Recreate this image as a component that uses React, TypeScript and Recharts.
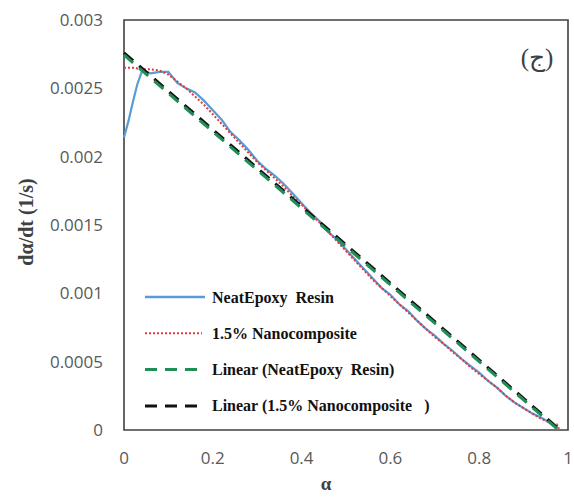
import React from 'react';
import { LineChart, Line, XAxis, YAxis, ReferenceArea } from 'recharts';

// conversion (alpha) vs. rate (1/s)
const neatAlpha = [0, 0.01, 0.02, 0.03, 0.04, 0.05, 0.06, 0.08, 0.1, 0.11, 0.12, 0.14, 0.16, 0.18, 0.2, 0.22, 0.24, 0.26, 0.28, 0.3, 0.32, 0.34, 0.36, 0.38, 0.4, 0.42, 0.44, 0.46, 0.48, 0.5, 0.52, 0.54, 0.56, 0.58, 0.6, 0.62, 0.64, 0.66, 0.68, 0.7, 0.72, 0.74, 0.76, 0.78, 0.8, 0.82, 0.84, 0.86, 0.88, 0.9, 0.92, 0.94, 0.96, 0.98];
const neatRate = [0.00214, 0.00226, 0.0024, 0.00253, 0.00262, 0.00262, 0.00261, 0.00262, 0.00262, 0.00258, 0.00254, 0.0025, 0.00247, 0.00241, 0.00234, 0.00227, 0.00218, 0.00212, 0.00205, 0.00197, 0.00191, 0.00186, 0.0018, 0.00173, 0.00166, 0.00159, 0.00153, 0.00145, 0.00139, 0.00132, 0.00125, 0.00118, 0.00111, 0.00104, 0.00099, 0.00092, 0.00087, 0.0008, 0.00074, 0.00069, 0.00063, 0.00058, 0.00052, 0.00047, 0.00042, 0.00036, 0.00031, 0.00025, 0.0002, 0.00016, 0.00012, 0.00009, 0.00005, 0.00001];

const nanoAlpha = [0, 0.02, 0.04, 0.06, 0.08, 0.1, 0.12, 0.14, 0.16, 0.18, 0.2, 0.22, 0.24, 0.26, 0.28, 0.3, 0.32, 0.34, 0.36, 0.38, 0.4, 0.42, 0.44, 0.46, 0.48, 0.5, 0.52, 0.54, 0.56, 0.58, 0.6, 0.62, 0.64, 0.66, 0.68, 0.7, 0.72, 0.74, 0.76, 0.78, 0.8, 0.82, 0.84, 0.86, 0.88, 0.9, 0.92, 0.94, 0.95, 0.96, 0.97, 0.975, 0.98];
const nanoRate = [0.00265, 0.00265, 0.00264, 0.00264, 0.00263, 0.0026, 0.00255, 0.0025, 0.00244, 0.00238, 0.00231, 0.00224, 0.00217, 0.0021, 0.00203, 0.00196, 0.0019, 0.00184, 0.00178, 0.00171, 0.00165, 0.00158, 0.00152, 0.00145, 0.00138, 0.00131, 0.00124, 0.00117, 0.0011, 0.00104, 0.00098, 0.00092, 0.00086, 0.0008, 0.00074, 0.00068, 0.00063, 0.00057, 0.00052, 0.00046, 0.00041, 0.00036, 0.00031, 0.00025, 0.0002, 0.00016, 0.00012, 0.00008, 0.00007, 0.00005, 0.00003, 0.00004, 0.00001];

// linear trendline end points
const fitNeatAlpha = [0, 0.975];
const fitNeatRate = [0.002744, 0.00001];
const fitNanoAlpha = [0, 0.975];
const fitNanoRate = [0.00276, 0.00002];

const xTicks = [0, 0.2, 0.4, 0.6, 0.8, 1];
const yTicks = [0, 0.0005, 0.001, 0.0015, 0.002, 0.0025, 0.003];
const yTickLabels = ['0', '0.0005', '0.001', '0.0015', '0.002', '0.0025', '0.003'];

const legendItems = [
  { label: 'NeatEpoxy  Resin', color: '#5B9BD5', dash: '', width: 2.5 },
  { label: '1.5% Nanocomposite', color: '#E0393E', dash: '2 2', width: 2 },
  { label: 'Linear (NeatEpoxy  Resin)', color: '#1F8F57', dash: '12 8', width: 3 },
  { label: 'Linear (1.5% Nanocomposite   )', color: '#111111', dash: '12 8', width: 3 },
];

const toPoints = (xs: number[], ys: number[]) => xs.map((a, i) => ({ a, v: ys[i] }));

const neat = toPoints(neatAlpha, neatRate);
const nano = toPoints(nanoAlpha, nanoRate);
const fitNeat = toPoints(fitNeatAlpha, fitNeatRate);
const fitNano = toPoints(fitNanoAlpha, fitNanoRate);

const tickStyle = { fill: '#595959', fontSize: 17, fontFamily: '"Open Sans", sans-serif' };
const serifBold = '"Liberation Serif", "Times New Roman", serif';

const App: React.FC = () => {
  return (
    <div style={{ position: 'absolute', left: 0, top: 0, width: 574, height: 497, background: '#fff' }}>
      <LineChart width={574} height={497} margin={{ top: 20, right: 6, bottom: 37, left: 0 }}>
        <XAxis
          dataKey="a"
          type="number"
          domain={[0, 1]}
          ticks={xTicks}
          height={30}
          tickSize={0}
          tickMargin={22}
          axisLine={false}
          tick={tickStyle}
          allowDuplicatedCategory={false}
        />
        <YAxis
          type="number"
          domain={[0, 0.003]}
          ticks={yTicks}
          width={124}
          tickSize={0}
          tickMargin={21}
          axisLine={false}
          tick={tickStyle}
          tickFormatter={(v: number) => yTickLabels[yTicks.indexOf(v)] ?? String(v)}
        />
        <ReferenceArea x1={0} x2={1} y1={0} y2={0.003} fill="none" stroke="#404040" strokeWidth={1.6} />
        <Line data={neat} dataKey="v" stroke="#5B9BD5" strokeWidth={2.2} dot={false} isAnimationActive={false} />
        <Line data={nano} dataKey="v" stroke="#E0393E" strokeWidth={2} strokeDasharray="2 2" dot={false} isAnimationActive={false} />
        <Line data={fitNano} dataKey="v" stroke="#111111" strokeWidth={3} strokeDasharray="12 8" dot={false} isAnimationActive={false} />
        <Line data={fitNeat} dataKey="v" stroke="#1F8F57" strokeWidth={3} strokeDasharray="12 8" dot={false} isAnimationActive={false} />
      </LineChart>

      <svg width={574} height={497} style={{ position: 'absolute', left: 0, top: 0, pointerEvents: 'none' }}>
        <text
          x={26}
          y={222}
          transform="rotate(-90 26 222)"
          textAnchor="middle"
          dominantBaseline="central"
          fontFamily={serifBold}
          fontWeight="bold"
          fontSize={20}
          fill="#404040"
        >
          dα/dt (1/s)
        </text>
        <text x={326} y={490} textAnchor="middle" fontFamily={serifBold} fontWeight="bold" fontSize={19} fill="#404040">
          α
        </text>
        <text x={537} y={66} textAnchor="middle" fontFamily={serifBold} fontSize={25} fill="#404040">
          (ج)
        </text>
        {legendItems.map((item, i) => {
          const y = 297 + i * 36.3;
          return (
            <g key={item.label}>
              <line
                x1={145}
                x2={item.dash ? 202 : 205}
                y1={y}
                y2={y}
                stroke={item.color}
                strokeWidth={item.width}
                strokeDasharray={item.dash || undefined}
              />
              <text
                x={212}
                y={y}
                dominantBaseline="central"
                fontFamily={serifBold}
                fontWeight="bold"
                fontSize={16}
                fill="#111"
                style={{ whiteSpace: 'pre' }}
              >
                {item.label}
              </text>
            </g>
          );
        })}
      </svg>
    </div>
  );
};

export default App;
